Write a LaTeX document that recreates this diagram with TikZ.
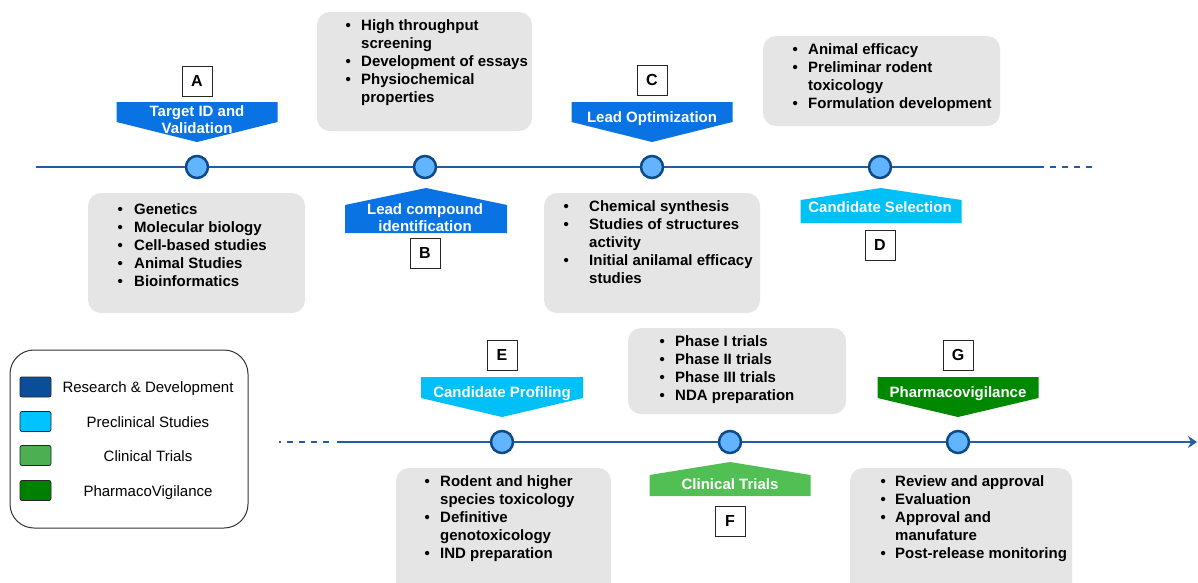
\documentclass[tikz,border=0pt]{standalone}
\usepackage{fontspec}
\setmainfont{Liberation Sans}
\usetikzlibrary{arrows.meta}

\definecolor{lineblue}{HTML}{1F5DA5}
\definecolor{dotfill}{HTML}{62B4FF}
\definecolor{dotedge}{HTML}{0E4A8A}
\definecolor{flagblue}{HTML}{0A73E4}
\definecolor{flagcyan}{HTML}{00C0F8}
\definecolor{flaggreen}{HTML}{52BF55}
\definecolor{flagdkgreen}{HTML}{008900}
\definecolor{boxgray}{HTML}{E5E5E5}
\definecolor{legrd}{HTML}{0A4E9A}
\definecolor{legpre}{HTML}{00C4FF}
\definecolor{legclin}{HTML}{4CAF50}
\definecolor{legpv}{HTML}{008000}

% bulleted items with a hanging indent of \bulw
\newlength\bulw
\newcommand\bitem{\par\noindent\hangindent=\bulw\hangafter=1\makebox[\bulw][l]{\textbullet}}
\newcommand\nl{\hfil\break}
\newcommand\blist[2]{\parbox[t]{250pt}{\raggedright\setlength\bulw{#1}#2}}

% flag pointing down: cx, half width, top, side bottom, tip, colour
\newcommand\flagdown[6]{\fill[#6] (#1-#2,#3) -- (#1+#2,#3) -- (#1+#2,#4) -- (#1,#5) -- (#1-#2,#4) -- cycle;}
% flag pointing up: cx, half width, tip, side top, bottom, colour
\newcommand\flagup[6]{\fill[#6] (#1,#3) -- (#1+#2,#4) -- (#1+#2,#5) -- (#1-#2,#5) -- (#1-#2,#4) -- cycle;}

\begin{document}
\begin{tikzpicture}[x=1pt,y=-1pt,
  tl/.style={draw=lineblue, line width=2.3pt},
  tldash/.style={tl, dash pattern=on 6pt off 6pt},
  dot/.style={circle, draw=dotedge, fill=dotfill, line width=2.5pt, minimum size=22pt, inner sep=0pt},
  gbox/.style={fill=boxgray, rounded corners=13pt},
  list/.style={anchor=base west, inner sep=0pt, font=\fontsize{15}{18}\selectfont\bfseries},
  flagtxt/.style={text=white, inner sep=0pt, font=\fontsize{15}{17.5}\selectfont\bfseries, text height=11pt, text depth=0pt},
  flagtxt2/.style={text=white, inner sep=0pt, align=center, font=\fontsize{15}{17.5}\selectfont\bfseries},
  lab/.style={draw=black!85, line width=0.8pt, fill=white, minimum size=30pt, inner sep=0pt,
              font=\fontsize{16}{18}\selectfont\bfseries, text height=11.5pt, text depth=0pt},
  swatch/.style={draw=black!85, line width=0.8pt, rounded corners=2pt, minimum width=31pt, minimum height=20pt, inner sep=0pt},
  legtxt/.style={inner sep=0pt, font=\fontsize{15}{18}\selectfont, text height=11pt, text depth=0pt}
]
\clip (0,0) rectangle (1198,582);
\fill[white] (0,0) rectangle (1198,582);

% ---------- grey description boxes ----------
\fill[gbox] (88,193) rectangle (305,313);
\fill[gbox] (317,12) rectangle (532,131);
\fill[gbox] (544,193) rectangle (760,313);
\fill[gbox] (763,36) rectangle (1000,126);
\fill[gbox] (396,468) rectangle (611,610);
\fill[gbox] (628,328) rectangle (846,414);
\fill[gbox] (850,468) rectangle (1072,610);

\node[list] (la) at (117.4,214) {\blist{16.6pt}{\bitem Genetics \bitem Molecular biology \bitem Cell-based studies \bitem Animal Studies \bitem Bioinformatics}};
\node[list] (lb) at (345.4,30.5) {\blist{15.6pt}{\bitem High throughput\nl screening \bitem Development of essays \bitem Physiochemical\nl properties}};
\node[list] (lc) at (563.4,211.5) {\blist{25.6pt}{\bitem Chemical synthesis \bitem Studies of structures\nl activity \bitem Initial anilamal efficacy\nl studies}};
\node[list] (ld) at (792.4,54.5) {\blist{15.6pt}{\bitem Animal efficacy \bitem Preliminar rodent\nl toxicology \bitem Formulation development}};
\node[list] (le) at (424.4,486.5) {\blist{15.6pt}{\bitem Rodent and higher\nl species toxicology \bitem Definitive\nl genotoxicology \bitem IND preparation}};
\node[list] (lf) at (659.4,346) {\blist{15.6pt}{\bitem Phase I trials \bitem Phase II trials \bitem Phase III trials \bitem NDA preparation}};
\node[list] (lg) at (880.4,486.5) {\blist{14.6pt}{\bitem Review and approval \bitem Evaluation \bitem Approval and\nl manufature \bitem Post-release monitoring}};

% ---------- timelines ----------
\coordinate (ts) at (36,167);
\coordinate (te) at (1044,167);
\coordinate (tds) at (1050,167);
\coordinate (tde) at (1094,167);
\node[dot] (t1) at (197,167) {};
\node[dot] (t2) at (425,167) {};
\node[dot] (t3) at (652,167) {};
\node[dot] (t4) at (880,167) {};
\draw[tl] (ts) -- (t1);
\draw[tl] (t1) -- (t2);
\draw[tl] (t2) -- (t3);
\draw[tl] (t3) -- (t4);
\draw[tl] (t4) -- (te);
\draw[tldash] (tds) -- (tde);

\coordinate (bds) at (279,442);
\coordinate (bde) at (331,442);
\coordinate (bs) at (337,442);
\coordinate (be) at (1197,442);
\node[dot] (b1) at (502,442) {};
\node[dot] (b2) at (730,442) {};
\node[dot] (b3) at (958,442) {};
\draw[tldash, dash phase=4pt] (bds) -- (bde);
\draw[tl] (bs) -- (b1);
\draw[tl] (b1) -- (b2);
\draw[tl] (b2) -- (b3);
\draw[tl, -{Stealth[length=9pt, width=12pt, inset=3pt]}] (b3) -- (be);

% ---------- stage flags ----------
\flagdown{197}{80.5}{102}{122}{142}{flagblue}
\node[flagtxt2] (fa) at (197,119.5) {Target ID and\\Validation};
\flagup{426}{81}{188}{205}{233}{flagblue}
\node[flagtxt2] (fb) at (425,217.5) {Lead compound\\identification};
\flagdown{652}{80.5}{102}{122}{142}{flagblue}
\node[flagtxt] (fc) at (652,117) {Lead Optimization};
\flagup{881}{80.5}{188}{200}{223}{flagcyan}
\node[flagtxt] (fd) at (880,207) {Candidate Selection};
\flagdown{502}{81}{377}{398}{417}{flagcyan}
\node[flagtxt] (fe) at (502,392) {Candidate Profiling};
\flagup{730}{80.5}{462}{475}{496}{flaggreen}
\node[flagtxt] (ff) at (730,484) {Clinical Trials};
\flagdown{958}{80.5}{377}{398}{417}{flagdkgreen}
\node[flagtxt] (fg) at (958,392) {Pharmacovigilance};

% ---------- stage letters ----------
\node[lab] (A) at (197,81) {A};
\node[lab] (B) at (425,253) {B};
\node[lab] (C) at (652,80) {C};
\node[lab] (D) at (880,245) {D};
\node[lab] (E) at (502,355) {E};
\node[lab] (F) at (730,521) {F};
\node[lab] (G) at (958,355) {G};

% ---------- legend ----------
\draw[draw=black!80, line width=1pt, rounded corners=24pt] (10,350) rectangle (248,528);
\node[swatch, fill=legrd]   (s1) at (35.5,387) {};
\node[swatch, fill=legpre]  (s2) at (35.5,421.5) {};
\node[swatch, fill=legclin] (s3) at (35.5,455.5) {};
\node[swatch, fill=legpv]   (s4) at (35.5,490.5) {};
\node[legtxt] (g1) at (148,387) {Research \& Development};
\node[legtxt] (g2) at (148,421.5) {Preclinical Studies};
\node[legtxt] (g3) at (148,455.5) {Clinical Trials};
\node[legtxt] (g4) at (148,490.5) {PharmacoVigilance};
\end{tikzpicture}
\end{document}
